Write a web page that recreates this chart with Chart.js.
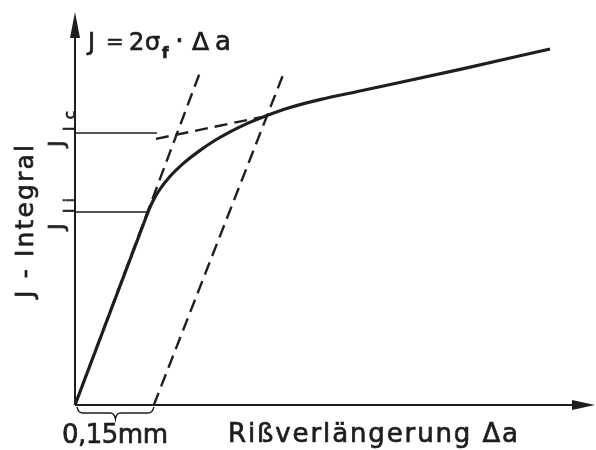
<!DOCTYPE html>
<html>
<head>
<meta charset="utf-8">
<script src="https://cdn.jsdelivr.net/npm/chart.js@4.4.0/dist/chart.umd.min.js"></script>
<style>
  html, body { margin: 0; padding: 0; background: #fff; }
  #wrap { width: 596px; height: 450px; }
</style>
</head>
<body>
<div id="wrap"><canvas id="chart" width="596" height="450"></canvas></div>
<script>
// Rißverlängerung Δa in mm, J in willkürlichen Einheiten
const geradeDa = [0, 0.139];
const geradeJ = [0, 49.1];

const kurveDa = [0.139, 0.145, 0.158, 0.181, 0.209, 0.238, 0.266, 0.295, 0.327, 0.358, 0.409, 0.466, 0.542, 0.733, 0.904];
const kurveJ = [49.1, 51.0, 54.2, 58.2, 61.8, 64.8, 67.3, 69.5, 71.6, 73.3, 75.7, 77.7, 79.9, 85.4, 90.6];

// Blunting line J = 2 sigma_f * Da und Parallele bei 0,15 mm
const bluntDa = [0, 0.238];
const bluntJ = [0, 84.7];
const parallelDa = [0.15, 0.398];
const parallelJ = [0, 84.7];

// Regressionsgerade (gestrichelt)
const regDa = [0.154, 0.356];
const regJ = [67.7, 73.3];

// Hilfslinien J_Ic und J_Ii
const jicDa = [0, 0.156];
const jicJ = [69.2, 69.2];
const jiiDa = [0, 0.139];
const jiiJ = [49.1, 49.1];

const xMax = 0.98;
const yMax = 100;

const ink = '#1e1e1e';

function punkte(xs, ys) {
   return xs.map((x, i) => ({ x: x, y: ys[i] }));
}

function linie(xs, ys, breite, dash, extra) {
   return Object.assign({
      data: punkte(xs, ys),
      borderColor: ink,
      borderWidth: breite,
      borderDash: dash || [],
      pointRadius: 0,
      fill: false,
      tension: 0,
      clip: false
   }, extra || {});
}

// Text etwas kräftiger zeichnen (Fill + dünner Stroke)
function schreib(ctx, text, x, y) {
   ctx.fillText(text, x, y);
   ctx.strokeText(text, x, y);
}

function fitText(ctx, text, x, y, w) {
   ctx.letterSpacing = '0px';
   const m = ctx.measureText(text).width;
   const n = [...text].length;
   const ls = n > 1 ? (w - m) / (n - 1) : 0;
   ctx.letterSpacing = ls + 'px';
   schreib(ctx, text, x, y);
   ctx.letterSpacing = '0px';
}

function rotText(ctx, text, x, y, w) {
   ctx.save();
   ctx.translate(x, y);
   ctx.rotate(-Math.PI / 2);
   if (w) {
      fitText(ctx, text, 0, 0, w);
   } else {
      schreib(ctx, text, 0, 0);
   }
   ctx.restore();
}

const achsenPlugin = {
   id: 'achsen',
   afterDatasetsDraw(chart) {
      const ctx = chart.ctx;
      const xs = chart.scales.x;
      const ys = chart.scales.y;
      const x0 = xs.getPixelForValue(0);
      const y0 = ys.getPixelForValue(0);
      const yTop = ys.getPixelForValue(yMax);
      const xEnd = xs.getPixelForValue(xMax);

      ctx.save();
      ctx.strokeStyle = ink;
      ctx.fillStyle = ink;
      ctx.lineWidth = 2;

      // Achsen
      ctx.beginPath();
      ctx.moveTo(x0, y0);
      ctx.lineTo(x0, yTop + 20);
      ctx.moveTo(x0, y0);
      ctx.lineTo(xEnd - 10, y0);
      ctx.stroke();

      // Pfeilspitzen
      ctx.beginPath();
      ctx.moveTo(x0, yTop);
      ctx.lineTo(x0 - 5, yTop + 26);
      ctx.lineTo(x0 + 5, yTop + 26);
      ctx.closePath();
      ctx.fill();

      ctx.beginPath();
      ctx.moveTo(xEnd + 5, y0);
      ctx.lineTo(xEnd - 18, y0 - 5);
      ctx.lineTo(xEnd - 18, y0 + 5);
      ctx.closePath();
      ctx.fill();

      // Klammer unter 0,15 mm
      const b0 = xs.getPixelForValue(0) + 2;
      const b1 = xs.getPixelForValue(0.15);
      const bm = (b0 + b1) / 2;
      const by = y0 + 2;
      ctx.lineWidth = 1.5;
      ctx.beginPath();
      ctx.moveTo(b0, by);
      ctx.quadraticCurveTo(b0 + 1, by + 6, b0 + 6, by + 6);
      ctx.lineTo(bm - 5, by + 6);
      ctx.quadraticCurveTo(bm - 1, by + 6, bm, by + 12);
      ctx.quadraticCurveTo(bm + 1, by + 6, bm + 5, by + 6);
      ctx.lineTo(b1 - 6, by + 6);
      ctx.quadraticCurveTo(b1 - 1, by + 6, b1, by);
      ctx.stroke();

      // Beschriftungen
      ctx.textBaseline = 'alphabetic';
      ctx.textAlign = 'left';
      ctx.lineWidth = 0.7;
      const f = (s) => s + 'px "DejaVu Sans", sans-serif';

      ctx.font = f(24);
      schreib(ctx, 'J', 88, 50);
      ctx.font = f(21);
      schreib(ctx, '=', 106, 49);
      ctx.font = f(24);
      schreib(ctx, '2', 129, 50);
      schreib(ctx, 'σ', 145, 50);
      ctx.font = 'bold ' + f(15);
      schreib(ctx, 'f', 162, 58);
      ctx.font = f(28);
      schreib(ctx, '·', 175, 50);
      ctx.font = f(25);
      schreib(ctx, 'Δ', 192, 50);
      ctx.font = f(26);
      schreib(ctx, 'a', 215, 50);

      ctx.font = f(26);
      fitText(ctx, '0,15mm', 62, 443, 106);
      fitText(ctx, 'Rißverlängerung Δa', 228, 442, 290);

      ctx.font = f(25);
      rotText(ctx, 'J - Integral', 33, 298, 153);

      ctx.font = f(22);
      rotText(ctx, 'J', 64, 147);
      rotText(ctx, 'J', 64, 230);
      ctx.font = f(15);
      rotText(ctx, 'Ic', 75, 131, 20);
      rotText(ctx, 'Ii', 75, 213, 15);

      ctx.restore();
   }
};

const ctx = document.getElementById('chart').getContext('2d');
new Chart(ctx, {
   type: 'line',
   data: {
      datasets: [
         linie(jicDa, jicJ, 1.5),
         linie(jiiDa, jiiJ, 1.5),
         linie(bluntDa, bluntJ, 2.4, [13, 7]),
         linie(parallelDa, parallelJ, 2.4, [13, 7]),
         linie(regDa, regJ, 2.4, [13, 7]),
         linie(geradeDa, geradeJ, 3.2),
         linie(kurveDa, kurveJ, 3.2, [], { cubicInterpolationMode: 'monotone' })
      ]
   },
   options: {
      responsive: false,
      animation: false,
      layout: { padding: { left: 75, top: 12, right: 6, bottom: 45 } },
      plugins: { legend: { display: false }, tooltip: { enabled: false } },
      scales: {
         x: { type: 'linear', min: 0, max: xMax, display: false },
         y: { type: 'linear', min: 0, max: yMax, display: false }
      }
   },
   plugins: [achsenPlugin]
});
</script>
</body>
</html>
